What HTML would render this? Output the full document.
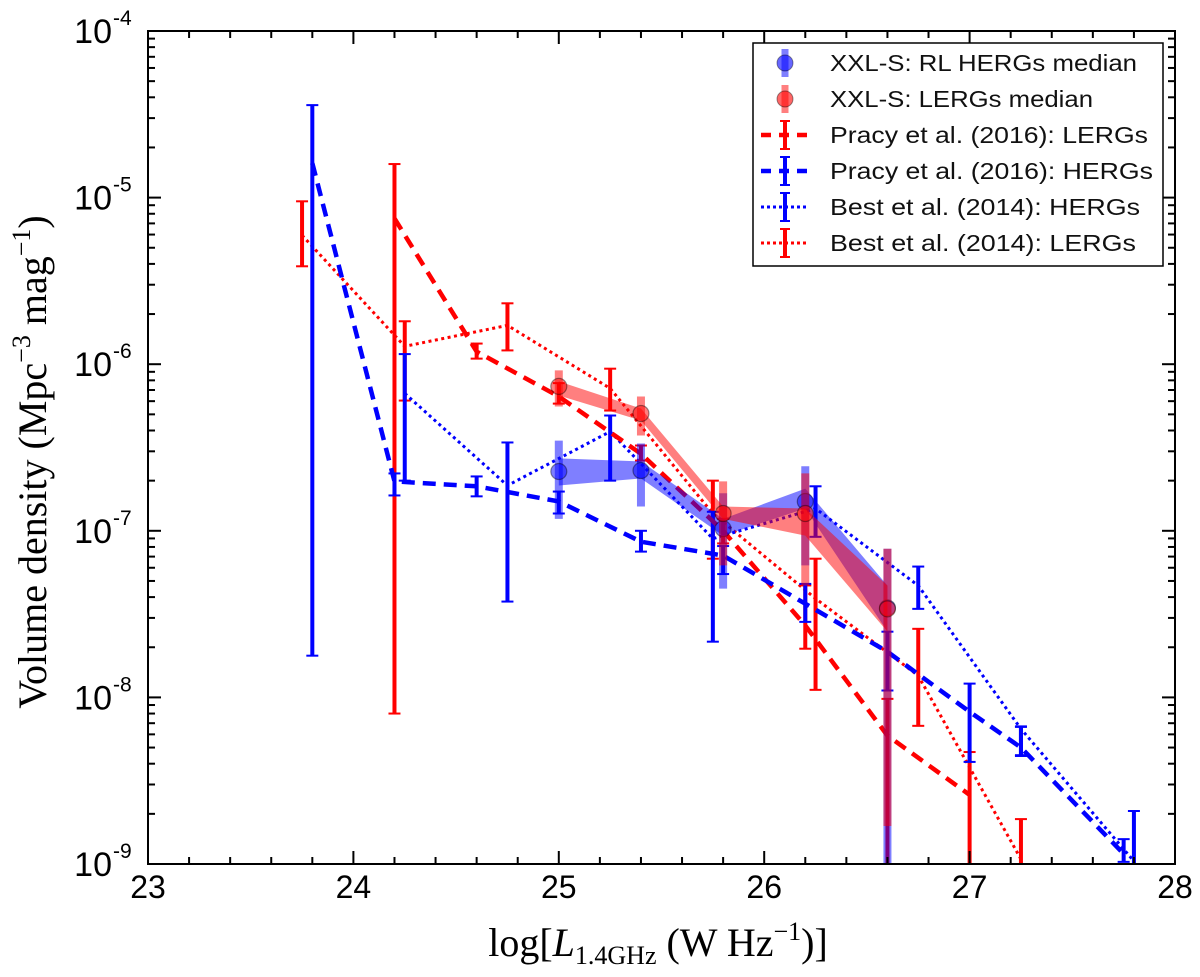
<!DOCTYPE html>
<html><head><meta charset="utf-8"><style>
html,body{margin:0;padding:0;background:#fff}
svg{display:block}
text{font-family:"Liberation Sans",sans-serif}
</style></head><body>
<svg id="chart" width="1200" height="977" viewBox="0 0 1200 977" xmlns="http://www.w3.org/2000/svg">
<defs><clipPath id="plotclip"><rect x="148" y="31" width="1027" height="833"/></clipPath></defs>
<g id="marks" clip-path="url(#plotclip)"></g>
<rect x="148" y="31" width="1027" height="833" fill="none" stroke="#000" stroke-width="2"/>
<g id="ticks"></g>
<text x="658" y="956" font-size="40" text-anchor="middle" style="font-family:'Liberation Serif',serif">log[<tspan font-style="italic">L</tspan><tspan font-size="26" dy="8">1.4GHz</tspan><tspan dy="-8"> (W Hz</tspan><tspan font-size="26" dy="-16">−1</tspan><tspan dy="16">)]</tspan></text>
<text transform="translate(46,462) rotate(-90)" font-size="40" text-anchor="middle" style="font-family:'Liberation Serif',serif">Volume density (Mpc<tspan font-size="26" dy="-16">−3</tspan><tspan dy="16"> mag</tspan><tspan font-size="26" dy="-16">−1</tspan><tspan dy="16">)</tspan></text>
<g>
<rect x="753" y="43" width="410" height="223" fill="#fff" stroke="#000" stroke-width="1.5"/>
<g id="legend"></g>
</g>
</svg>
<script>
// ---- data ----
const xxlX = [25.0, 25.4, 25.8, 26.2, 26.6];
const xxlHergY = [2.27e-7, 2.30e-7, 1.03e-7, 1.50e-7, 3.45e-8];
const xxlHergLo = [1.18e-7, 1.40e-7, 4.5e-8, 6.2e-8, 5e-10];
const xxlHergHi = [3.48e-7, 3.34e-7, 1.68e-7, 2.44e-7, 7.8e-8];
const xxlHergBandLo = [1.87e-7, 2.06e-7, 9.35e-8, 1.36e-7, 2.48e-8];
const xxlHergBandHi = [2.72e-7, 2.61e-7, 1.18e-7, 1.79e-7, 4.69e-8];
const xxlLergY = [7.36e-7, 5.06e-7, 1.27e-7, 1.27e-7, 3.40e-8];
const xxlLergLo = [5.57e-7, 3.73e-7, 6.2e-8, 4.69e-8, 1.69e-9];
const xxlLergHi = [9.18e-7, 6.4e-7, 1.98e-7, 2.21e-7, 7.8e-8];
const xxlLergBandLo = [6.49e-7, 4.59e-7, 1.18e-7, 9.35e-8, 2.48e-8];
const xxlLergBandHi = [7.89e-7, 5.42e-7, 1.40e-7, 1.36e-7, 4.69e-8];

const pracyLergX = [24.2, 24.6, 25.0, 25.4, 25.8, 26.2, 26.6, 27.0];
const pracyLergY = [7.5e-6, 1.19e-6, 6.4e-7, 2.9e-7, 1.0e-7, 2.7e-8, 5.9e-9, 2.6e-9];
const pracyLergLo = [8.0e-9, 1.08e-6, 5.8e-7, 2.64e-7, 8.4e-8, 1.96e-8, 5e-10, 5e-10];
const pracyLergHi = [1.59e-5, 1.33e-6, 7.7e-7, 3.25e-7, 1.18e-7, 4.7e-8, 9.8e-9, 4.7e-9];

const pracyHergX = [23.8, 24.2, 24.6, 25.0, 25.4, 25.8, 26.2, 26.6, 27.0, 27.25, 27.75];
const pracyHergY = [1.61e-5, 1.98e-7, 1.85e-7, 1.50e-7, 8.6e-8, 7.1e-8, 3.65e-8, 1.88e-8, 8.2e-9, 5.0e-9, 1.15e-9];
const pracyHergLo = [1.78e-8, 1.63e-7, 1.61e-7, 1.27e-7, 7.5e-8, 5.5e-8, 2.84e-8, 1.10e-8, 4.1e-9, 4.5e-9, 1.03e-9];
const pracyHergHi = [3.59e-5, 2.21e-7, 2.12e-7, 1.72e-7, 1.0e-7, 8.1e-8, 4.8e-8, 2.48e-8, 1.21e-8, 6.7e-9, 1.41e-9];

const bestHergX = [24.25, 24.75, 25.25, 25.75, 26.25, 26.75, 27.25, 27.8];
const bestHergY = [6.68e-7, 1.87e-7, 3.94e-7, 8.97e-8, 1.36e-7, 4.69e-8, 6.47e-9, 1.04e-9];
const bestHergLo = [2.0e-7, 3.76e-8, 2.0e-7, 2.16e-8, 9.2e-8, 3.4e-8, 4.45e-9, 5e-10];
const bestHergHi = [1.15e-6, 3.39e-7, 4.92e-7, 1.30e-7, 1.85e-7, 6.1e-8, 6.65e-9, 2.08e-9];

const bestLergX = [23.75, 24.25, 24.75, 25.25, 25.75, 26.25, 26.75, 27.25];
const bestLergY = [5.94e-6, 1.28e-6, 1.71e-6, 7.16e-7, 1.27e-7, 3.92e-8, 1.35e-8, 1.07e-9];
const bestLergLo = [3.87e-6, 6.05e-7, 1.21e-6, 5.27e-7, 6.8e-8, 1.11e-8, 6.75e-9, 5e-10];
const bestLergHi = [9.5e-6, 1.81e-6, 2.32e-6, 9.4e-7, 2.0e-7, 6.8e-8, 2.58e-8, 1.86e-9];

const xTickLabels = ["23", "24", "25", "26", "27", "28"];
const yTickExps = ["-4", "-5", "-6", "-7", "-8", "-9"];

// ---- axes ----
const X0 = 148, X1 = 1175, Y0 = 31, Y1 = 864;
const xMin = 23, xMax = 28, yMinLog = -9, yMaxLog = -4;
function sx(v){ return X0 + (v - xMin) / (xMax - xMin) * (X1 - X0); }
function sy(v){ return Y0 + (yMaxLog - Math.log10(v)) / (yMaxLog - yMinLog) * (Y1 - Y0); }

const NS = "http://www.w3.org/2000/svg";
function mk(tag, attrs, parent){
  const e = document.createElementNS(NS, tag);
  for (const k in attrs) e.setAttribute(k, attrs[k]);
  parent.appendChild(e);
  return e;
}
const marks = document.getElementById('marks');
const ticks = document.getElementById('ticks');
const svg = document.getElementById('chart');

for (let v = 23; v <= 28.001; v += 0.2) {
  const major = Math.abs(v - Math.round(v)) < 1e-6;
  const L = major ? 13 : 7, x = sx(v);
  const t1 = mk('line', {x1:x, y1:Y1, x2:x, y2:Y1-L, stroke:'#000','stroke-width':2}, ticks);
  
  
  const t2 = mk('line', {x1:x, y1:Y0, x2:x, y2:Y0+L, stroke:'#000','stroke-width':2}, ticks);
  
  
}
xTickLabels.forEach(function(s){
  const t = mk('text', {x:sx(+s), y:898, 'font-size':32, 'text-anchor':'middle'}, svg);
  t.textContent = s;
  
  
});
for (let d = -9; d <= -4; d++) {
  for (let m = 1; m <= 9; m++) {
    const v = m * Math.pow(10, d);
    if (Math.log10(v) > -4 + 1e-9) break;
    const L = m === 1 ? 13 : 7, y = sy(v);
    const a = mk('line', {x1:X0, y1:y, x2:X0+L, y2:y, stroke:'#000','stroke-width':2}, ticks);
    
    
    const b = mk('line', {x1:X1, y1:y, x2:X1-L, y2:y, stroke:'#000','stroke-width':2}, ticks);
    
    
  }
}
yTickExps.forEach(function(s){
  const y = sy(Math.pow(10, +s));
  const t = mk('text', {x:112, y:y+12, 'font-size':34, 'text-anchor':'end'}, svg);
  t.textContent = '10';
  
  
  const e = mk('text', {x:113, y:y-6, 'font-size':21, 'text-anchor':'start'}, svg);
  e.textContent = s;
  
  
});

function line(xs, ys, color, width, dash, name){
  const pts = xs.map(function(x,i){ return sx(x)+','+sy(ys[i]); }).join(' ');
  const p = mk('polyline', {points:pts, fill:'none', stroke:color, 'stroke-width':width, 'stroke-dasharray':dash}, marks);
  
  
}
function errs(xs, lo, hi, color, width, cap, opacity, name){
  xs.forEach(function(x,i){
    const g = mk('g', {opacity:opacity}, marks);
    
    
    const X = sx(x), a = sy(lo[i]), b = sy(hi[i]);
    mk('line', {x1:X, y1:a, x2:X, y2:b, stroke:color, 'stroke-width':width}, g);
    if (cap) {
      mk('line', {x1:X-cap, y1:a, x2:X+cap, y2:a, stroke:color, 'stroke-width':2}, g);
      mk('line', {x1:X-cap, y1:b, x2:X+cap, y2:b, stroke:color, 'stroke-width':2}, g);
    }
  });
}
function band(xs, lo, hi, color, name){
  const up = xs.map(function(x,i){ return sx(x)+','+sy(hi[i]); });
  const dn = xs.map(function(x,i){ return sx(x)+','+sy(lo[i]); }).reverse();
  const p = mk('polygon', {points:up.concat(dn).join(' '), fill:color, 'fill-opacity':0.5, stroke:'none'}, marks);
  
  
}
function dots(xs, ys, color, name){
  xs.forEach(function(x,i){
    const c = mk('circle', {cx:sx(x), cy:sy(ys[i]), r:8, fill:color, 'fill-opacity':0.5, stroke:'#000', 'stroke-opacity':0.4, 'stroke-width':1.2}, marks);
    
    
  });
}

line(bestLergX, bestLergY, '#ff0000', 3, '3,3.5', 'best-lergs-line');
errs(bestLergX, bestLergLo, bestLergHi, '#ff0000', 4, 6, 1, 'best-lergs-errorbar');
line(bestHergX, bestHergY, '#0000ff', 3, '3,3.5', 'best-hergs-line');
errs(bestHergX, bestHergLo, bestHergHi, '#0000ff', 4, 6, 1, 'best-hergs-errorbar');
line(pracyLergX, pracyLergY, '#ff0000', 4.5, '13,8', 'pracy-lergs-line');
errs(pracyLergX, pracyLergLo, pracyLergHi, '#ff0000', 4, 6, 1, 'pracy-lergs-errorbar');
line(pracyHergX, pracyHergY, '#0000ff', 4.5, '13,8', 'pracy-hergs-line');
errs(pracyHergX, pracyHergLo, pracyHergHi, '#0000ff', 4, 6, 1, 'pracy-hergs-errorbar');
band(xxlX, xxlHergBandLo, xxlHergBandHi, '#0000ff', 'xxl-hergs-band');
errs(xxlX, xxlHergLo, xxlHergHi, '#0000ff', 8, 0, 0.5, 'xxl-hergs-errorbar');
dots(xxlX, xxlHergY, '#0000ff', 'xxl-hergs-point');
band(xxlX, xxlLergBandLo, xxlLergBandHi, '#ff0000', 'xxl-lergs-band');
errs(xxlX, xxlLergLo, xxlLergHi, '#ff0000', 8, 0, 0.5, 'xxl-lergs-errorbar');
dots(xxlX, xxlLergY, '#ff0000', 'xxl-lergs-point');

const leg = document.getElementById('legend');
const legendLabels = ["XXL-S: RL HERGs median","XXL-S: LERGs median","Pracy et al. (2016): LERGs","Pracy et al. (2016): HERGs","Best et al. (2014): HERGs","Best et al. (2014): LERGs"];
const legendKinds = ["xb","xr","dr","db","ob","or"];
const legendTextWidths = [307, 263, 318, 323, 310, 306];
legendLabels.forEach(function(lbl,i){
  const y = 63 + i*36, mx = 785, k = legendKinds[i];
  const col = k[1] === 'b' ? '#0000ff' : '#ff0000';
  const g = mk('g', {}, leg);
  
  
  if (k[0] === 'x') {
    mk('line', {x1:mx, y1:y-14, x2:mx, y2:y+14, stroke:col, 'stroke-width':7, 'stroke-opacity':0.5}, g);
    mk('circle', {cx:mx, cy:y, r:8, fill:col, 'fill-opacity':0.6, stroke:'#000','stroke-opacity':0.4}, g);
  } else {
    const dash = k[0] === 'd' ? '10,8' : '3,3';
    mk('line', {x1:mx-24, y1:y, x2:mx+24, y2:y, stroke:col, 'stroke-width':k[0]==='d'?4.5:3, 'stroke-dasharray':dash}, g);
    mk('line', {x1:mx, y1:y-14, x2:mx, y2:y+14, stroke:col, 'stroke-width':4}, g);
    mk('line', {x1:mx-5, y1:y-14, x2:mx+5, y2:y-14, stroke:col, 'stroke-width':2}, g);
    mk('line', {x1:mx-5, y1:y+14, x2:mx+5, y2:y+14, stroke:col, 'stroke-width':2}, g);
  }
  const t = mk('text', {x:830, y:y+8, 'font-size':23, fill:'#111', textLength:legendTextWidths[i], lengthAdjust:'spacingAndGlyphs'}, g);
  t.textContent = lbl;
});
</script>
</body></html>
